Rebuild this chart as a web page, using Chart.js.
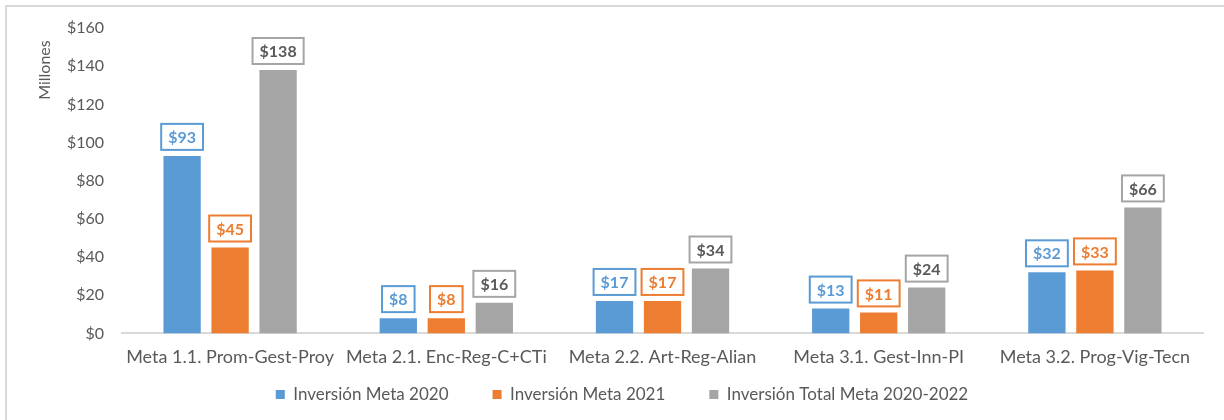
<!DOCTYPE html>
<html>
<head>
<meta charset="utf-8">
<script src="https://cdn.jsdelivr.net/npm/chart.js@4/dist/chart.umd.min.js"></script>
<style>
  body { margin: 0; background: #fff; overflow: hidden; }
  .chart-box { position: absolute; left: 5px; top: 5px; width: 1230px; height: 413px; border: 2px solid #d9d9d9; }
</style>
</head>
<body>
<div class="chart-box"><canvas id="myChart"></canvas></div>
<script>
'use strict'

// DATOS
var categories = ['Meta 1.1. Prom-Gest-Proy', 'Meta 2.1. Enc-Reg-C+CTi', 'Meta 2.2. Art-Reg-Alian', 'Meta 3.1. Gest-Inn-PI', 'Meta 3.2. Prog-Vig-Tecn'];
var meta2020 = [93, 8, 17, 13, 32];
var meta2021 = [45, 8, 17, 11, 33];
var total2020_2022 = [138, 16, 34, 24, 66];
var yTicks = [0, 20, 40, 60, 80, 100, 120, 140, 160];

var FONT = "Lato, sans-serif";
var TEXT = '#595959';

// etiquetas con recuadro encima de cada barra
var boxLabels = {
    id: 'boxLabels',
    afterLayout: function(chart) {
        // leyenda un poco más arriba y centrada en todo el gráfico
        var lg = chart.legend;
        var dy = 335 - lg.top;
        lg.top += dy;
        lg.bottom += dy;
        lg.left += 17;
        lg.right += 17;
    },
    afterDatasetsDraw: function(chart) {
        var ctx = chart.ctx;
        ctx.save();
        ctx.font = 'bold 16px ' + FONT;
        ctx.textAlign = 'center';
        ctx.textBaseline = 'middle';
        chart.data.datasets.forEach(function(ds, i) {
            var meta = chart.getDatasetMeta(i);
            meta.data.forEach(function(bar, j) {
                var txt = '$' + Math.round(ds.data[j]);
                var w = ctx.measureText(txt).width + 14;
                var h = 26;
                var bx = bar.x - w / 2;
                var by = bar.y - 6 - h;
                ctx.fillStyle = '#fff';
                ctx.fillRect(bx, by, w, h);
                ctx.strokeStyle = ds.backgroundColor;
                ctx.lineWidth = 2;
                ctx.strokeRect(bx, by, w, h);
                ctx.fillStyle = ds.labelColor;
                ctx.fillText(txt, bar.x, by + h / 2 + 1);
            });
        });
        ctx.restore();
    }
};

var ctx = document.getElementById('myChart').getContext('2d');
var chart = new Chart(ctx, {
    type: 'bar',
    data: {
        labels: categories,
        datasets: [{
            label: 'Inversión Meta 2020',
            data: meta2020,
            backgroundColor: '#5b9bd5',
            labelColor: '#5b9bd5'
        },
        {
            label: 'Inversión Meta 2021',
            data: meta2021,
            backgroundColor: '#ed7d31',
            labelColor: '#ed7d31'
        },
        {
            label: 'Inversión Total Meta 2020-2022',
            data: total2020_2022,
            backgroundColor: '#a5a5a5',
            labelColor: TEXT
        }]
    },
    options: {
        responsive: true,
        maintainAspectRatio: false,
        animation: false,
        categoryPercentage: 0.666,
        barPercentage: 0.777,
        layout: { padding: { top: 21, right: 34, left: 0, bottom: -32 } },
        plugins: {
            tooltip: { enabled: false },
            legend: {
                position: 'bottom',
                labels: {
                    boxWidth: 9,
                    boxHeight: 9,
                    padding: 44,
                    color: TEXT,
                    font: { family: FONT, size: 17 }
                }
            }
        },
        scales: {
            x: {
                grid: { display: false, drawTicks: false },
                border: { color: '#d9d9d9', width: 2 },
                ticks: { color: TEXT, font: { family: FONT, size: 18 }, padding: 13 }
            },
            y: {
                min: 0,
                max: 160,
                afterBuildTicks: function(scale) {
                    scale.ticks = yTicks.map(function(v) { return { value: v }; });
                },
                afterFit: function(scale) {
                    scale.width = 115;
                    scale.paddingTop = 10;
                    scale.paddingBottom = 10;
                },
                grid: { display: false, drawTicks: false },
                border: { display: false },
                title: { display: true, align: 'end', text: 'Millones   ', color: TEXT, font: { family: FONT, size: 16 }, padding: { top: 28, bottom: 0 } },
                ticks: {
                    color: TEXT,
                    font: { family: FONT, size: 16 },
                    padding: 18,
                    callback: function(v) { return '$' + v; }
                }
            }
        }
    },
    plugins: [boxLabels]
});
</script>
</body>
</html>
